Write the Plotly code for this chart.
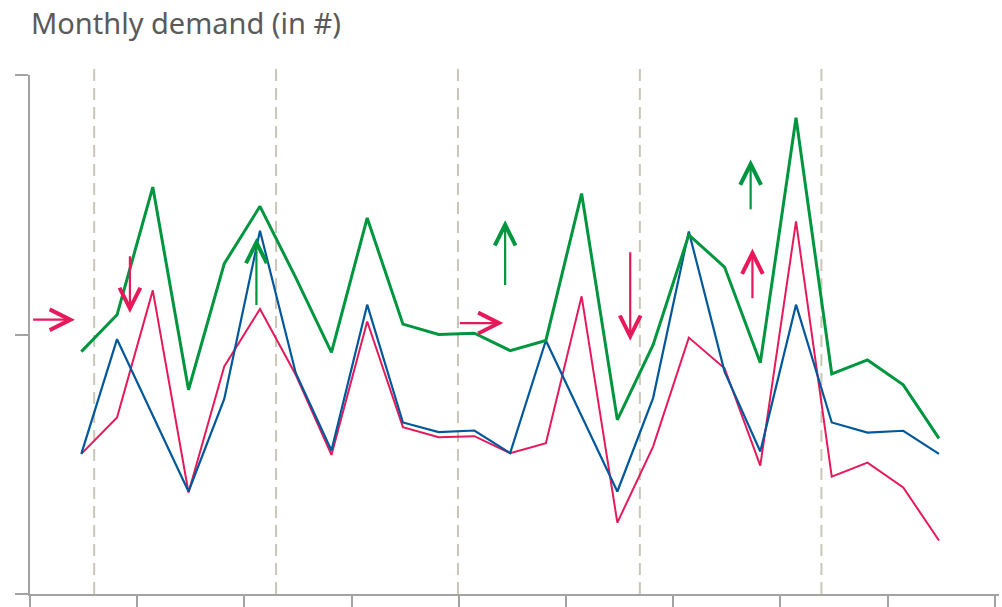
import plotly.graph_objects as go

# ---- data ----
month_index = list(range(25))

demand_green = [93.4, 107.6, 156.8, 78.7, 127.3, 149.4, 121.9, 93.1, 144.9, 104.0, 100.0, 100.5,
                93.8, 97.7, 154.3, 67.1, 96.0, 138.4, 126.0, 89.1, 183.5, 84.8, 90.2, 80.6, 60.0]
demand_blue = [54.0, 98.2, 68.8, 39.5, 75.2, 140.0, 85.2, 55.3, 111.5, 66.1, 62.4, 63.0,
               54.3, 97.7, 68.6, 39.5, 75.5, 139.7, 85.7, 54.9, 111.5, 66.1, 62.2, 62.9, 54.0]
demand_red = [54.0, 68.0, 117.0, 39.1, 87.7, 109.8, 84.5, 53.6, 105.0, 64.3, 60.4, 60.8,
              54.3, 58.1, 114.7, 27.5, 56.8, 98.8, 87.0, 49.5, 143.6, 45.2, 50.6, 41.1, 20.6]

# vertical event markers (in month-index units)
event_positions = [0.36, 5.45, 10.54, 15.63, 20.71]

# trend arrows: tail x, tail y, head x, head y, colour key
arrow_tail_x = [-1.39, 1.36, 4.90, 10.55, 11.86, 15.36, 18.78, 18.73]
arrow_tail_y = [105.7, 130.7, 110.8, 104.4, 118.5, 132.3, 113.4, 147.7]
arrow_head_x = [-0.18, 1.36, 4.90, 11.81, 11.86, 15.36, 18.78, 18.73]
arrow_head_y = [105.7, 108.3, 137.2, 104.4, 144.0, 97.6, 133.1, 167.4]
arrow_series = ["red", "red", "green", "red", "green", "red", "red", "green"]

y_ticks = [0, 100, 200]
x_tick_start = -1.436
x_tick_step = 3
x_range = [-1.436, 25.68]

# ---- styles ----
colors = {"green": "#00963f", "blue": "#00589b", "red": "#e6195a"}
axis_gray = "#a3a3a3"
dash_color = "#cac6b6"

fig = go.Figure()

for pos in event_positions:
    fig.add_shape(type="line", xref="x", yref="paper", x0=pos, x1=pos, y0=0, y1=1.025,
                  line=dict(color=dash_color, width=2, dash="12px,7px"), layer="below")

fig.add_trace(go.Scatter(x=month_index, y=demand_red, mode="lines",
                         line=dict(color=colors["red"], width=2), hoverinfo="skip"))
fig.add_trace(go.Scatter(x=month_index, y=demand_blue, mode="lines",
                         line=dict(color=colors["blue"], width=2.2), hoverinfo="skip"))
fig.add_trace(go.Scatter(x=month_index, y=demand_green, mode="lines",
                         line=dict(color=colors["green"], width=3), hoverinfo="skip"))

for tx, ty, hx, hy, s in zip(arrow_tail_x, arrow_tail_y, arrow_head_x, arrow_head_y, arrow_series):
    fig.add_annotation(x=hx, y=hy, ax=tx, ay=ty, xref="x", yref="y", axref="x", ayref="y",
                       text="", showarrow=True, arrowhead=5, arrowsize=1.85, arrowwidth=2.2,
                       arrowcolor=colors[s], standoff=0, startstandoff=0)

fig.update_layout(
    width=1002, height=607,
    margin=dict(l=30, r=3, t=75, b=13),
    paper_bgcolor="white", plot_bgcolor="white",
    showlegend=False,
    title=dict(text="Monthly demand (in #)", x=31 / 1002, xref="container", xanchor="left",
               y=1 - 24 / 607, yref="container", yanchor="middle",
               font=dict(family="Noto Sans", size=29, color="#5a5a5a")),
    xaxis=dict(range=x_range, showgrid=False, zeroline=False, showline=True, automargin=False,
               linecolor=axis_gray, linewidth=2, ticks="outside", ticklen=13, tickwidth=2,
               tickcolor=axis_gray, tickmode="linear", tick0=x_tick_start, dtick=x_tick_step,
               showticklabels=False, fixedrange=True),
    yaxis=dict(range=[y_ticks[0], y_ticks[-1]], showgrid=False, zeroline=False, showline=True,
               automargin=False,
               linecolor=axis_gray, linewidth=2, ticks="outside", ticklen=13, tickwidth=2,
               tickcolor=axis_gray, tickvals=y_ticks, showticklabels=False, fixedrange=True),
)

fig.write_html("out.html", config={"displayModeBar": False},
               post_script="document.body.style.margin='0';document.body.style.overflow='hidden';")
